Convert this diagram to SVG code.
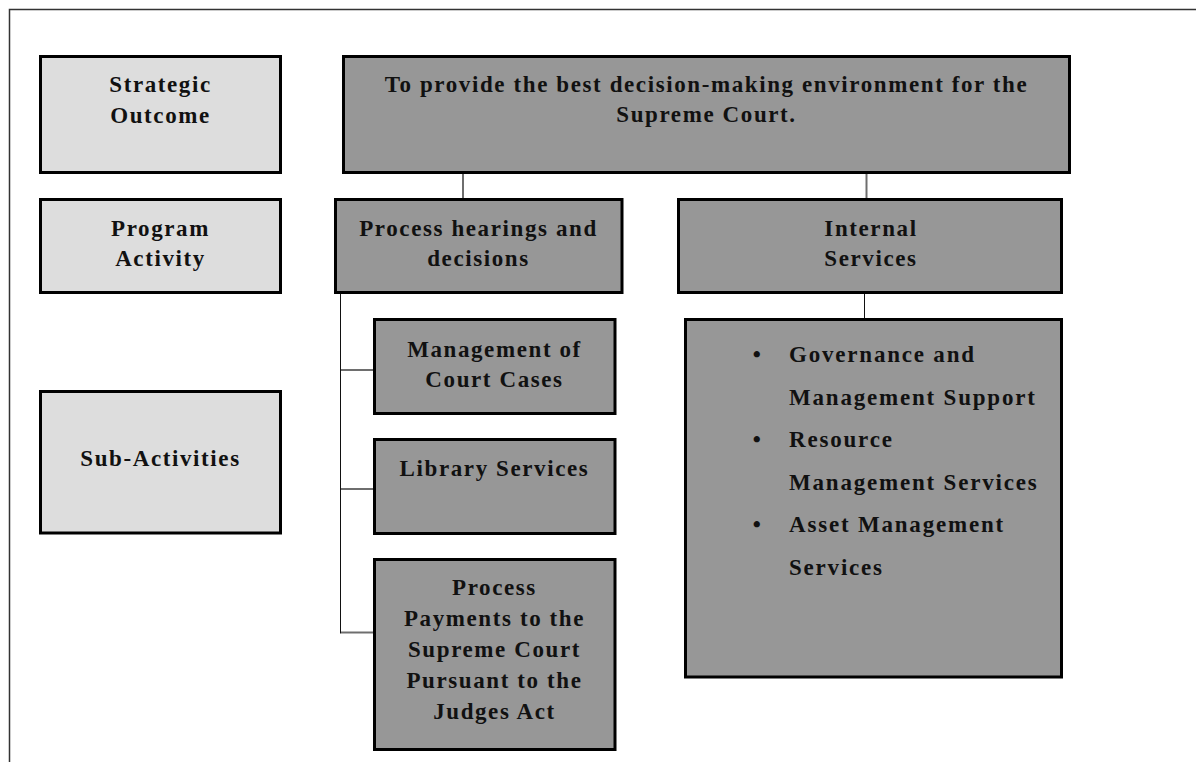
<svg xmlns="http://www.w3.org/2000/svg" width="1196" height="762" viewBox="0 0 1196 762">
  <style>
    .frame { fill: none; stroke: #333333; stroke-width: 1.5; }
    .label { fill: #dddddd; stroke: #000000; stroke-width: 3; }
    .box { fill: #979797; stroke: #000000; stroke-width: 3; }
    .t { font-family: "Liberation Serif", "Times New Roman", serif; font-weight: bold; font-size: 23px; letter-spacing: 1.6px; fill: #111111; text-anchor: middle; }
    .l { text-anchor: start; letter-spacing: 1.8px; }
    .link { fill: none; stroke: #6e6e6e; stroke-width: 2; }
    .thin { fill: none; stroke: #111111; stroke-width: 1; }
  </style>

  <!-- page frame (top and left edges) -->
  <path class="frame" d="M9.5,762 V9.5 H1196"/>

  <!-- connectors -->
  <g id="connectors">
    <line class="link" x1="463" y1="174" x2="463" y2="198"/>
    <line class="link" x1="866.5" y1="174" x2="866.5" y2="198"/>
    <line class="thin" x1="864.5" y1="294" x2="864.5" y2="318"/>
    <line class="thin" x1="340.5" y1="294" x2="340.5" y2="633.5"/>
    <line class="link" x1="341" y1="370" x2="373" y2="370"/>
    <line class="link" x1="341" y1="489" x2="373" y2="489"/>
    <line class="link" x1="341" y1="632.5" x2="373" y2="632.5"/>
  </g>

  <!-- level labels -->
  <g id="label-strategic-outcome">
    <rect class="label" x="40.5" y="56.5" width="240" height="116"/>
    <text class="t" x="160.5" y="92">Strategic</text>
    <text class="t" x="160.5" y="123">Outcome</text>
  </g>
  <g id="label-program-activity">
    <rect class="label" x="40.5" y="199.5" width="240" height="93"/>
    <text class="t" x="160.5" y="236">Program</text>
    <text class="t" x="160.5" y="266">Activity</text>
  </g>
  <g id="label-sub-activities">
    <rect class="label" x="40.5" y="391.5" width="240" height="141.5"/>
    <text class="t" x="160.5" y="466">Sub-Activities</text>
  </g>

  <!-- strategic outcome -->
  <g id="outcome">
    <rect class="box" x="343.5" y="56.5" width="726" height="116"/>
    <text class="t" x="706.5" y="92">To provide the best decision-making environment for the</text>
    <text class="t" x="706.5" y="122">Supreme Court.</text>
  </g>

  <!-- program activities -->
  <g id="process-hearings">
    <rect class="box" x="335.5" y="199.5" width="286.5" height="93"/>
    <text class="t" x="478.5" y="236">Process hearings and</text>
    <text class="t" x="478.5" y="266">decisions</text>
  </g>
  <g id="internal-services">
    <rect class="box" x="678.5" y="199.5" width="383" height="93"/>
    <text class="t" x="871" y="236">Internal</text>
    <text class="t" x="871" y="266">Services</text>
  </g>

  <!-- sub-activities -->
  <g id="court-cases">
    <rect class="box" x="374.5" y="319.5" width="240.5" height="94"/>
    <text class="t" x="494.5" y="357">Management of</text>
    <text class="t" x="494.5" y="387">Court Cases</text>
  </g>
  <g id="library-services">
    <rect class="box" x="374.5" y="439.5" width="240.5" height="94"/>
    <text class="t" x="494.5" y="476">Library Services</text>
  </g>
  <g id="judges-act-payments">
    <rect class="box" x="374.5" y="559.5" width="240.5" height="190"/>
    <text class="t" x="494.5" y="595">Process</text>
    <text class="t" x="494.5" y="626">Payments to the</text>
    <text class="t" x="494.5" y="657">Supreme Court</text>
    <text class="t" x="494.5" y="688">Pursuant to the</text>
    <text class="t" x="494.5" y="719">Judges Act</text>
  </g>
  <g id="internal-services-list">
    <rect class="box" x="685.5" y="319.5" width="376" height="357.5"/>
    <text class="t" x="757.5" y="362">•</text>
    <text class="t l" x="789" y="362">Governance and</text>
    <text class="t l" x="789" y="404.5">Management Support</text>
    <text class="t" x="757.5" y="447">•</text>
    <text class="t l" x="789" y="447">Resource</text>
    <text class="t l" x="789" y="489.5">Management Services</text>
    <text class="t" x="757.5" y="532">•</text>
    <text class="t l" x="789" y="532">Asset Management</text>
    <text class="t l" x="789" y="574.5">Services</text>
  </g>
</svg>
